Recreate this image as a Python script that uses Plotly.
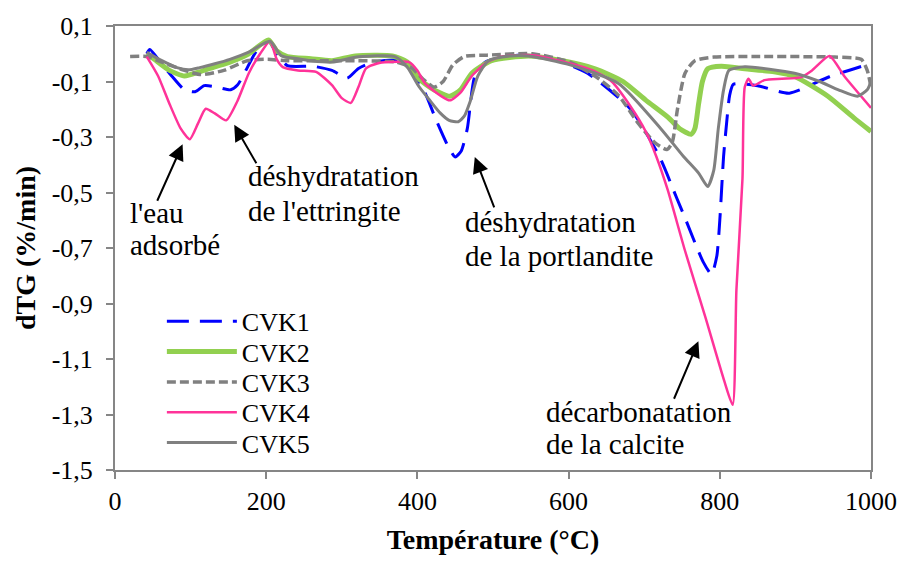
import plotly.graph_objects as go

# Température (°C) and dTG (%/min) for each mix
t_cvk1 = [42, 46, 60, 75, 92, 106, 118, 131, 153, 162, 175, 186, 203, 214, 228, 262, 287, 307, 322, 342, 377, 395, 410, 425, 440, 450, 458, 466, 476, 490, 520, 545, 580, 625, 682, 720, 743, 753, 778, 789, 796, 800, 805, 809, 813, 818, 850, 892, 945, 1000]
v_cvk1 = [0.0, 0.015, -0.03, -0.08, -0.13, -0.137, -0.115, -0.118, -0.13, -0.113, -0.05, 0.005, 0.045, 0.0, -0.043, -0.045, -0.06, -0.088, -0.053, -0.03, -0.025, -0.07, -0.14, -0.24, -0.33, -0.372, -0.35, -0.27, -0.08, -0.03, -0.01, -0.005, -0.02, -0.07, -0.2, -0.37, -0.52, -0.585, -0.75, -0.795, -0.73, -0.6, -0.37, -0.25, -0.15, -0.11, -0.115, -0.142, -0.083, -0.035]

t_cvk2 = [42, 52, 72, 92, 112, 132, 152, 177, 203, 214, 228, 259, 287, 318, 367, 387, 402, 422, 443, 457, 472, 498, 547, 592, 635, 672, 702, 732, 747, 762, 767, 772, 777, 784, 802, 833, 872, 899, 943, 977, 1000]
v_cvk2 = [0.0, -0.02, -0.06, -0.08, -0.065, -0.047, -0.03, 0.0, 0.05, 0.01, -0.01, -0.018, -0.025, -0.008, -0.008, -0.03, -0.09, -0.13, -0.153, -0.13, -0.07, -0.025, -0.008, -0.025, -0.054, -0.1, -0.167, -0.23, -0.27, -0.29, -0.27, -0.18, -0.1, -0.054, -0.045, -0.054, -0.065, -0.082, -0.153, -0.23, -0.28]

t_cvk3 = [20, 42, 62, 92, 114, 144, 175, 202, 228, 302, 372, 392, 407, 422, 434, 447, 462, 492, 552, 602, 640, 666, 692, 714, 730, 737, 744, 754, 767, 792, 852, 952, 987, 995, 1000]
v_cvk3 = [-0.01, -0.01, -0.03, -0.06, -0.075, -0.06, -0.025, -0.02, -0.025, -0.025, -0.03, -0.05, -0.09, -0.12, -0.1, -0.04, -0.01, -0.005, 0.0, -0.03, -0.09, -0.15, -0.25, -0.32, -0.345, -0.32, -0.2, -0.07, -0.025, -0.012, -0.01, -0.012, -0.02, -0.06, -0.12]

t_cvk4 = [42, 57, 72, 87, 99, 110, 120, 132, 147, 162, 177, 192, 205, 214, 222, 242, 266, 287, 300, 312, 322, 332, 347, 362, 389, 400, 410, 430, 443, 457, 472, 492, 512, 552, 602, 632, 657, 682, 702, 716, 731, 754, 781, 806, 817, 822, 830, 833, 838, 844, 859, 882, 907, 922, 945, 965, 1000]
v_cvk4 = [-0.01, -0.08, -0.18, -0.27, -0.308, -0.25, -0.198, -0.215, -0.24, -0.17, -0.07, 0.0, 0.045, -0.02, -0.048, -0.06, -0.065, -0.113, -0.16, -0.177, -0.12, -0.053, -0.035, -0.03, -0.03, -0.06, -0.107, -0.15, -0.168, -0.14, -0.08, -0.03, -0.01, -0.005, -0.035, -0.06, -0.1, -0.19, -0.28, -0.37, -0.49, -0.71, -0.95, -1.18, -1.265, -0.85, -0.45, -0.12, -0.09, -0.115, -0.095, -0.09, -0.085, -0.06, -0.008, -0.082, -0.195]

t_cvk5 = [42, 62, 82, 97, 112, 132, 152, 177, 205, 220, 242, 259, 287, 322, 371, 387, 402, 417, 430, 442, 454, 462, 470, 480, 494, 522, 547, 602, 666, 722, 752, 772, 784, 792, 798, 805, 812, 833, 899, 932, 957, 982, 995, 1000]
v_cvk5 = [0.005, -0.025, -0.05, -0.058, -0.05, -0.036, -0.02, 0.006, 0.045, -0.007, -0.018, -0.025, -0.03, -0.011, -0.011, -0.05, -0.118, -0.17, -0.213, -0.24, -0.245, -0.225, -0.17, -0.08, -0.025, -0.008, -0.008, -0.04, -0.107, -0.27, -0.37, -0.43, -0.478, -0.42, -0.27, -0.13, -0.06, -0.047, -0.07, -0.1, -0.13, -0.153, -0.13, -0.1]

x_ticks = [0, 200, 400, 600, 800, 1000]
y_ticks = [0.1, -0.1, -0.3, -0.5, -0.7, -0.9, -1.1, -1.3, -1.5]
y_ticktext = ["0,1", "-0,1", "-0,3", "-0,5", "-0,7", "-0,9", "-1,1", "-1,3", "-1,5"]

# peak labels: one entry per text line (text, x, y in data units)
labels = [
    ("l'eau", 17.7, -0.573),
    ("adsorbé", 17.7, -0.689),
    ("déshydratation", 172.9, -0.442),
    ("de l'ettringite", 172.9, -0.566),
    ("déshydratation", 460.8, -0.608),
    ("de la portlandite", 460.8, -0.728),
    ("décarbonatation", 567.2, -1.292),
    ("de la calcite", 567.2, -1.408),
]
# arrows: tip (x, y in data units) and tail offset in pixels
arrows = [
    (89.4, -0.326, -26, 58),
    (157.7, -0.256, 23, 40),
    (475.9, -0.372, 20, 52),
    (771.7, -1.036, -25, 59),
]

FONT = "Liberation Serif, Times New Roman, serif"
AXIS_GRAY = "#868686"

series = [
    ("CVK1", t_cvk1, v_cvk1, dict(color="#0000FF", width=3, dash="22px,11px")),
    ("CVK2", t_cvk2, v_cvk2, dict(color="#92D050", width=5)),
    ("CVK3", t_cvk3, v_cvk3, dict(color="#808080", width=3.5, dash="9px,4px")),
    ("CVK4", t_cvk4, v_cvk4, dict(color="#FF3399", width=2.5)),
    ("CVK5", t_cvk5, v_cvk5, dict(color="#808080", width=3)),
]

fig = go.Figure()
legend_layout = {}
for i, (name, t, v, style) in enumerate(series):
    key = "legend" if i == 0 else f"legend{i + 1}"
    fig.add_trace(go.Scatter(x=t, y=v, name=name, mode="lines", legend=key,
                             line=dict(shape="spline", smoothing=0.6, **style)))
    # one legend per entry so rows sit 31 px apart
    row_px = 318 + 31 * i
    legend_layout[key] = dict(
        x=0.062, y=1 - (row_px - 16) / 454, xanchor="left", yanchor="middle",
        bgcolor="rgba(0,0,0,0)", itemwidth=70, borderwidth=0,
        font=dict(family=FONT, size=26, color="black"))

for text, x, y in labels:
    fig.add_annotation(x=x, y=y, xref="x", yref="y", text=text, showarrow=False,
                       xanchor="left", yanchor="middle", align="left",
                       font=dict(family=FONT, size=29, color="black"))
for x, y, ax, ay in arrows:
    fig.add_annotation(x=x, y=y, xref="x", yref="y", text="", showarrow=True,
                       ax=ax, ay=ay, axref="pixel", ayref="pixel",
                       arrowhead=2, arrowsize=1.6, arrowwidth=2, arrowcolor="black", standoff=0)

fig.update_layout(
    width=909, height=564,
    margin=dict(l=115, r=33, t=16, b=94),
    paper_bgcolor="white", plot_bgcolor="white",
    font=dict(family=FONT, size=26, color="black"),
    showlegend=True,
    xaxis=dict(range=[0, 1000], tickvals=x_ticks, ticks="outside", ticklen=7, tickwidth=2,
               tickcolor=AXIS_GRAY, showline=True, linecolor=AXIS_GRAY, linewidth=2, mirror=True,
               showgrid=False, zeroline=False, ticklabelstandoff=0,
               tickfont=dict(family=FONT, size=26, color="black"),
               title=dict(text="<b>Température (°C)</b>", font=dict(family=FONT, size=28, color="black"), standoff=14)),
    yaxis=dict(range=[-1.5, 0.1], tickvals=y_ticks, ticktext=y_ticktext, ticks="outside", ticklen=7,
               tickwidth=2, tickcolor=AXIS_GRAY, showline=True, linecolor=AXIS_GRAY, linewidth=2,
               mirror=True, showgrid=False, zeroline=False, ticklabelstandoff=8,
               tickfont=dict(family=FONT, size=26, color="black"),
               title=dict(text="<b>dTG (%/min)</b>", font=dict(family=FONT, size=28, color="black"), standoff=8)),
    **legend_layout,
)

fig.write_html("out.html")
